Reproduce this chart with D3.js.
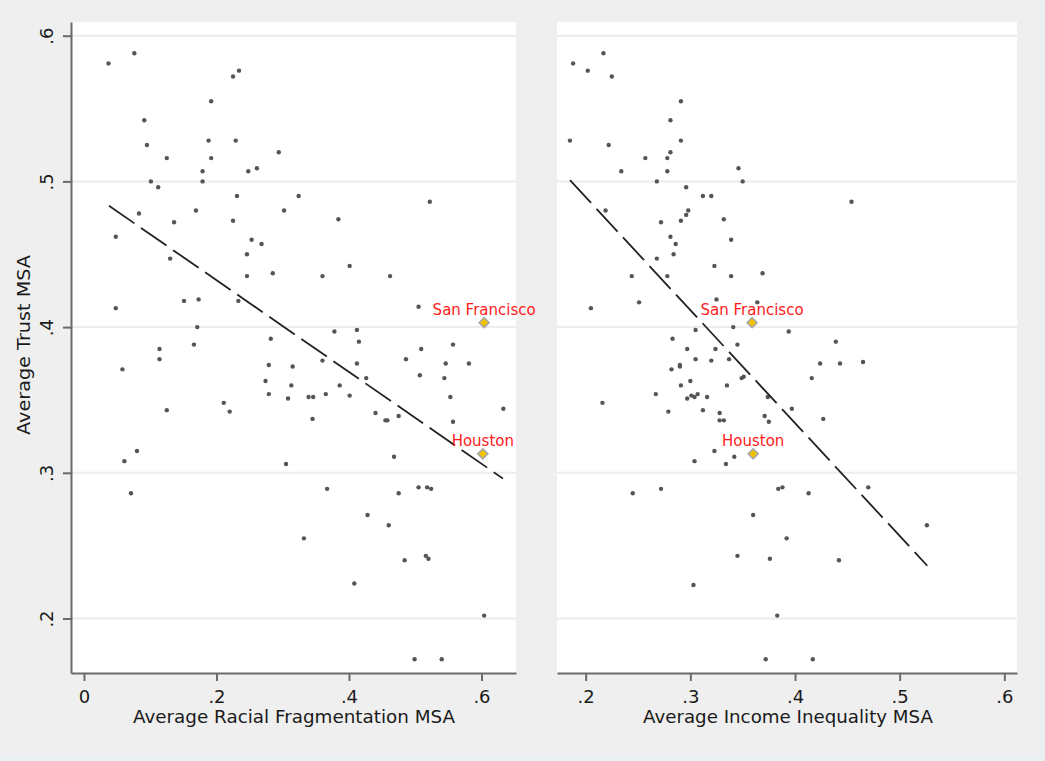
<!DOCTYPE html>
<html lang="en">
<head>
<meta charset="UTF-8">
<style>
  body { margin: 0; background: #e9f0f2; }
  svg { display: block; font-family: "DejaVu Sans", sans-serif; }
</style>
<script src="https://d3js.org/d3.v7.min.js"></script>
<title>Trust vs fragmentation and inequality</title>
</head>
<body>
<div id="chart"></div>
<script>
// Average trust vs racial fragmentation (left panel), [x, trust]
const fragPoints = [
  [0.037,0.581],[0.076,0.588],[0.225,0.572],[0.234,0.576],[0.192,0.555],[0.091,0.542],[0.095,0.525],
  [0.188,0.528],[0.229,0.528],[0.125,0.516],[0.192,0.516],[0.294,0.520],[0.179,0.507],[0.248,0.507],
  [0.261,0.509],[0.179,0.500],[0.101,0.500],[0.112,0.496],[0.231,0.490],[0.324,0.490],[0.522,0.486],
  [0.083,0.478],[0.169,0.480],[0.302,0.480],[0.136,0.472],[0.225,0.473],[0.384,0.474],[0.048,0.462],
  [0.253,0.460],[0.268,0.457],[0.246,0.450],[0.130,0.447],[0.401,0.442],[0.246,0.435],[0.285,0.437],
  [0.360,0.435],[0.462,0.435],[0.048,0.413],[0.151,0.418],[0.173,0.419],[0.233,0.418],[0.505,0.414],
  [0.171,0.400],[0.378,0.397],[0.412,0.398],[0.415,0.390],[0.282,0.392],[0.166,0.388],[0.114,0.385],
  [0.509,0.385],[0.557,0.388],[0.114,0.378],[0.486,0.378],[0.360,0.377],[0.412,0.375],[0.546,0.375],
  [0.581,0.375],[0.279,0.374],[0.315,0.373],[0.058,0.371],[0.507,0.367],[0.544,0.365],[0.426,0.365],
  [0.274,0.363],[0.313,0.360],[0.386,0.360],[0.279,0.354],[0.308,0.351],[0.339,0.352],[0.346,0.352],
  [0.365,0.354],[0.401,0.353],[0.553,0.352],[0.125,0.343],[0.211,0.348],[0.220,0.342],[0.440,0.341],
  [0.455,0.336],[0.458,0.336],[0.475,0.339],[0.557,0.335],[0.633,0.344],[0.345,0.337],[0.080,0.315],
  [0.061,0.308],[0.305,0.306],[0.468,0.311],[0.071,0.286],[0.367,0.289],[0.475,0.286],[0.505,0.290],
  [0.518,0.290],[0.524,0.289],[0.428,0.271],[0.460,0.264],[0.332,0.255],[0.484,0.240],[0.516,0.243],
  [0.520,0.241],[0.408,0.224],[0.604,0.202],[0.499,0.172],[0.540,0.172]
];

// Average trust vs income inequality (right panel), [x, trust]
const ineqPoints = [
  [0.188,0.581],[0.217,0.588],[0.202,0.576],[0.225,0.572],[0.291,0.555],[0.281,0.542],[0.185,0.528],
  [0.222,0.525],[0.291,0.528],[0.281,0.520],[0.257,0.516],[0.278,0.516],[0.234,0.507],[0.278,0.507],
  [0.346,0.509],[0.268,0.500],[0.350,0.500],[0.296,0.496],[0.312,0.490],[0.320,0.490],[0.454,0.486],
  [0.219,0.480],[0.296,0.477],[0.298,0.480],[0.332,0.474],[0.272,0.472],[0.291,0.473],[0.281,0.462],
  [0.286,0.457],[0.339,0.460],[0.284,0.450],[0.268,0.447],[0.244,0.435],[0.278,0.435],[0.323,0.442],
  [0.339,0.435],[0.369,0.437],[0.205,0.413],[0.251,0.417],[0.325,0.419],[0.364,0.417],[0.305,0.398],
  [0.341,0.400],[0.394,0.397],[0.283,0.392],[0.297,0.385],[0.324,0.385],[0.345,0.388],[0.439,0.390],
  [0.305,0.378],[0.320,0.377],[0.337,0.378],[0.282,0.371],[0.290,0.374],[0.290,0.373],[0.424,0.375],
  [0.443,0.375],[0.465,0.376],[0.300,0.363],[0.291,0.360],[0.335,0.360],[0.349,0.365],[0.351,0.366],
  [0.416,0.365],[0.267,0.354],[0.297,0.351],[0.301,0.353],[0.304,0.352],[0.307,0.354],[0.316,0.352],
  [0.374,0.352],[0.216,0.348],[0.279,0.342],[0.312,0.343],[0.328,0.341],[0.328,0.336],[0.332,0.336],
  [0.371,0.339],[0.375,0.335],[0.397,0.344],[0.427,0.337],[0.323,0.315],[0.342,0.311],[0.304,0.308],
  [0.334,0.306],[0.245,0.286],[0.272,0.289],[0.384,0.289],[0.388,0.290],[0.413,0.286],[0.470,0.290],
  [0.360,0.271],[0.526,0.264],[0.392,0.255],[0.345,0.243],[0.376,0.241],[0.442,0.240],[0.303,0.223],
  [0.383,0.202],[0.372,0.172],[0.417,0.172]
];

// fitted lines (end points)
const fragFit = [[0.0377,0.4833],[0.6325,0.2960]];
const ineqFit = [[0.1850,0.5008],[0.5264,0.2362]];

// highlighted cities
const cityNames = ["San Francisco", "Houston"];
const fragCities = [[0.604,0.403],[0.602,0.313]];
const ineqCities = [[0.359,0.403],[0.360,0.313]];

// ticks
const trustTicks = [0.2, 0.3, 0.4, 0.5, 0.6];
const fragTicks = [0, 0.2, 0.4, 0.6];
const ineqTicks = [0.2, 0.3, 0.4, 0.5, 0.6];

const width = 1045, height = 761;
const plotTop = 22, plotBottom = 673;

const svg = d3.select("#chart").append("svg")
  .attr("width", width)
  .attr("height", height);

svg.append("rect")
  .attr("width", 1040).attr("height", 755)
  .attr("fill", "#efefef");

const y = d3.scaleLinear([0.1626, 0.6094], [plotBottom, plotTop]);
const fmt = v => v === 0 ? "0" : d3.format(".1f")(v).replace(/^0/, "");

const panels = [
  { x0: 71, x1: 516, domain: [-0.0196, 0.6521], ticks: fragTicks, points: fragPoints,
    fit: fragFit, cities: fragCities, title: "Average Racial Fragmentation MSA",
    titleLen: 322, titleX: 294, yAxis: true },
  { x0: 557, x1: 1017, domain: [0.1726, 0.6121], ticks: ineqTicks, points: ineqPoints,
    fit: ineqFit, cities: ineqCities, title: "Average Income Inequality MSA",
    titleLen: 290, titleX: 788, yAxis: false }
];

panels.forEach(function(p) {
  const x = d3.scaleLinear(p.domain, [p.x0, p.x1]);
  const g = svg.append("g");

  // plot region
  g.append("rect")
    .attr("x", p.x0).attr("y", plotTop)
    .attr("width", p.x1 - p.x0).attr("height", plotBottom - plotTop)
    .attr("fill", "#ffffff");

  // grid lines
  g.selectAll(".grid")
    .data(trustTicks)
    .join("line")
    .attr("x1", p.x0).attr("x2", p.x1)
    .attr("y1", d => y(d)).attr("y2", d => y(d))
    .attr("stroke", "#ececec")
    .attr("stroke-width", 2);

  // x axis
  const xAxis = g.append("g")
    .attr("transform", "translate(0," + plotBottom + ")")
    .call(d3.axisBottom(x).tickValues(p.ticks).tickFormat(fmt).tickSize(8).tickSizeOuter(0));
  xAxis.select(".domain").attr("stroke", "#6a6a6a").attr("stroke-width", 2);
  xAxis.selectAll(".tick line").attr("stroke", "#6a6a6a").attr("stroke-width", 2);
  xAxis.selectAll(".tick text")
    .attr("y", 30).attr("dy", null)
    .attr("fill", "#1a1a1a")
    .style("font-size", "18px")
    .style("font-family", "DejaVu Sans");

  g.append("text")
    .attr("x", p.titleX).attr("y", 723)
    .attr("text-anchor", "middle")
    .attr("textLength", p.titleLen)
    .attr("lengthAdjust", "spacingAndGlyphs")
    .attr("fill", "#1a1a1a")
    .style("font-size", "18px")
    .text(p.title);

  // y axis (left panel only)
  if (p.yAxis) {
    const yAxis = g.append("g")
      .attr("transform", "translate(" + p.x0 + ",0)")
      .call(d3.axisLeft(y).tickValues(trustTicks).tickFormat(fmt).tickSize(8).tickSizeOuter(0));
    yAxis.select(".domain").attr("stroke", "#6a6a6a").attr("stroke-width", 2);
    yAxis.selectAll(".tick line").attr("stroke", "#6a6a6a").attr("stroke-width", 2);
    yAxis.selectAll(".tick text")
      .attr("x", null).attr("dy", null)
      .attr("text-anchor", "middle")
      .attr("transform", "translate(-18,0) rotate(-90)")
      .attr("fill", "#1a1a1a")
      .style("font-size", "18px")
      .style("font-family", "DejaVu Sans");

    svg.append("text")
      .attr("transform", "translate(30,345) rotate(-90)")
      .attr("text-anchor", "middle")
      .attr("textLength", 180)
      .attr("lengthAdjust", "spacingAndGlyphs")
      .attr("fill", "#1a1a1a")
      .style("font-size", "18px")
      .text("Average Trust MSA");
  }

  // scatter points
  g.append("g")
    .selectAll("circle")
    .data(p.points)
    .join("circle")
    .attr("cx", d => x(d[0]))
    .attr("cy", d => y(d[1]))
    .attr("r", 2.2)
    .attr("fill", "#555555");

  // fitted line
  g.append("line")
    .attr("x1", x(p.fit[0][0])).attr("y1", y(p.fit[0][1]))
    .attr("x2", x(p.fit[1][0])).attr("y2", y(p.fit[1][1]))
    .attr("stroke", "#222222")
    .attr("stroke-width", 1.8)
    .attr("stroke-dasharray", "31,8");

  // highlighted cities
  g.selectAll(".city")
    .data(p.cities)
    .join("path")
    .attr("d", d3.symbol(d3.symbolSquare, 50))
    .attr("transform", d => "translate(" + x(d[0]) + "," + y(d[1]) + ") rotate(45)")
    .attr("fill", "#f2c200")
    .attr("stroke", "#a8a8a8")
    .attr("stroke-width", 1.6);

  g.selectAll(".cityLabel")
    .data(p.cities)
    .join("text")
    .attr("x", d => x(d[0]))
    .attr("y", d => y(d[1]) - 7.5)
    .attr("text-anchor", "middle")
    .attr("fill", "#ff1a1a")
    .style("font-size", "15px")
    .text((d, i) => cityNames[i]);
});
</script>
</body>
</html>
